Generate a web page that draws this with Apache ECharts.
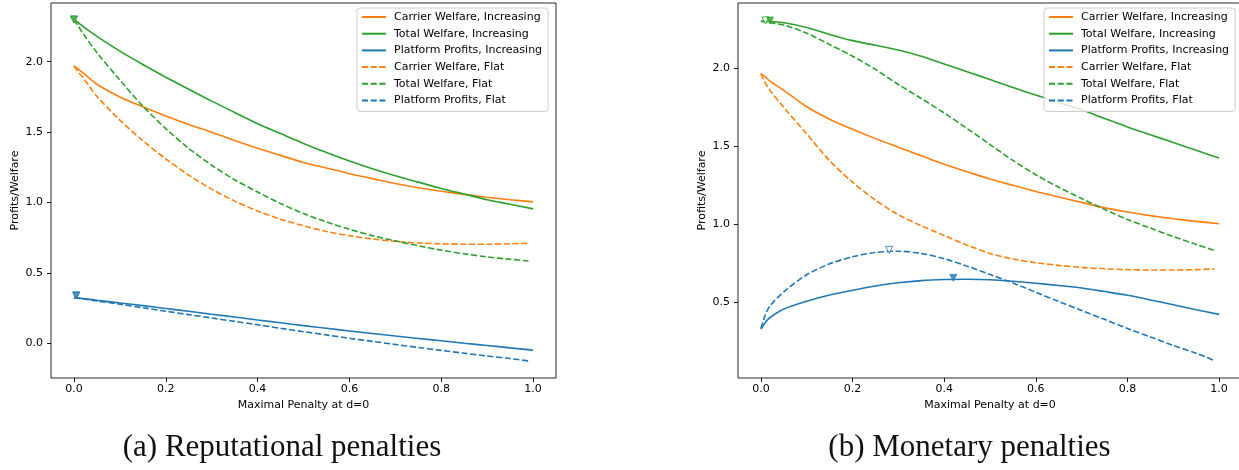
<!DOCTYPE html>
<html><head><meta charset="utf-8">
<script src="https://cdn.jsdelivr.net/npm/echarts@6/dist/echarts.min.js"></script>
<style>html,body{margin:0;padding:0;background:#fff}#c{width:1239px;height:470px}</style>
</head><body><div id="c"></div>
<script>
// ---------- data ----------
const seriesNames = ['Carrier Welfare, Increasing','Total Welfare, Increasing','Platform Profits, Increasing',
                     'Carrier Welfare, Flat','Total Welfare, Flat','Platform Profits, Flat'];
const captions = ['(a) Reputational penalties', '(b) Monetary penalties'];
const xAxisName = 'Maximal Penalty at d=0';
const yAxisName = 'Profits/Welfare';
const xTicks = [0, 0.2, 0.4, 0.6, 0.8, 1.0];
const yTicksA = [0, 0.5, 1.0, 1.5, 2.0];
const yTicksB = [0.5, 1.0, 1.5, 2.0];

const xInc  = [0, 0.01, 0.02, 0.05, 0.1, 0.15, 0.2, 0.25, 0.3, 0.35, 0.4, 0.45, 0.5, 0.55, 0.6, 0.65, 0.7, 0.75, 0.8, 0.85, 0.9, 0.95, 1.0];
const xFlat = [0, 0.01, 0.02, 0.05, 0.1, 0.15, 0.2, 0.25, 0.3, 0.35, 0.4, 0.45, 0.5, 0.55, 0.6, 0.65, 0.7, 0.75, 0.8, 0.85, 0.9, 0.95, 0.99];

// (a) Reputational penalties
const carrierIncA  = [1.97, 1.945, 1.92, 1.84, 1.75, 1.68, 1.615, 1.555, 1.5, 1.44, 1.385, 1.335, 1.285, 1.245, 1.205, 1.17, 1.135, 1.105, 1.08, 1.058, 1.038, 1.02, 1.005];
const totalIncA    = [2.30, 2.275, 2.25, 2.18, 2.075, 1.98, 1.89, 1.805, 1.72, 1.64, 1.56, 1.49, 1.42, 1.355, 1.295, 1.24, 1.19, 1.145, 1.1, 1.06, 1.02, 0.988, 0.955];
const platformIncA = [0.325, 0.321, 0.318, 0.306, 0.287, 0.268, 0.248, 0.228, 0.207, 0.187, 0.166, 0.146, 0.126, 0.107, 0.088, 0.07, 0.052, 0.035, 0.018, 0.001, -0.015, -0.032, -0.048];
const carrierFlatA = [1.97, 1.925, 1.885, 1.755, 1.585, 1.44, 1.31, 1.195, 1.095, 1.01, 0.94, 0.882, 0.835, 0.795, 0.764, 0.741, 0.724, 0.713, 0.707, 0.704, 0.704, 0.707, 0.711];
const totalFlatA   = [2.30, 2.25, 2.2, 2.065, 1.87, 1.685, 1.525, 1.385, 1.265, 1.162, 1.075, 0.993, 0.922, 0.862, 0.81, 0.765, 0.728, 0.693, 0.662, 0.636, 0.614, 0.597, 0.585];
const platformFlatA= [0.325, 0.32, 0.315, 0.301, 0.278, 0.253, 0.228, 0.204, 0.18, 0.156, 0.132, 0.107, 0.083, 0.06, 0.036, 0.014, -0.008, -0.029, -0.05, -0.07, -0.09, -0.108, -0.125];

// (b) Monetary penalties
const carrierIncB  = [1.968, 1.945, 1.92, 1.86, 1.755, 1.675, 1.61, 1.55, 1.495, 1.44, 1.385, 1.337, 1.29, 1.25, 1.21, 1.175, 1.14, 1.105, 1.078, 1.055, 1.035, 1.018, 1.003];
const totalIncB    = [2.305, 2.305, 2.303, 2.295, 2.265, 2.22, 2.18, 2.15, 2.12, 2.08, 2.03, 1.98, 1.93, 1.878, 1.83, 1.783, 1.735, 1.68, 1.625, 1.575, 1.525, 1.475, 1.425];
const platformIncB = [0.325, 0.37, 0.40, 0.455, 0.505, 0.545, 0.575, 0.603, 0.623, 0.637, 0.644, 0.646, 0.643, 0.633, 0.62, 0.606, 0.59, 0.567, 0.543, 0.513, 0.482, 0.45, 0.42];
const carrierFlatB = [1.968, 1.905, 1.86, 1.75, 1.58, 1.408, 1.27, 1.155, 1.06, 0.99, 0.927, 0.865, 0.812, 0.776, 0.752, 0.735, 0.722, 0.713, 0.708, 0.705, 0.705, 0.708, 0.712];
const totalFlatB   = [2.305, 2.3, 2.295, 2.28, 2.228, 2.155, 2.08, 1.995, 1.898, 1.808, 1.715, 1.615, 1.512, 1.41, 1.318, 1.237, 1.165, 1.095, 1.03, 0.975, 0.92, 0.87, 0.83];
const platformFlatB= [0.33, 0.42, 0.475, 0.565, 0.675, 0.745, 0.79, 0.818, 0.826, 0.812, 0.778, 0.73, 0.677, 0.622, 0.562, 0.503, 0.445, 0.388, 0.33, 0.275, 0.22, 0.17, 0.123];

// optimum markers: [total welfare, platform profits]
const optIncA  = [[0.0, 2.30], [0.005, 0.34]];
const optFlatA = [[0.0, 2.30], [0.005, 0.34]];
const optIncB  = [[0.02, 2.31], [0.42, 0.655]];
const optFlatB = [[0.01, 2.31], [0.28, 0.835]];

// ---------- styling / build ----------
const ORANGE = '#ff7f0e', GREEN = '#2ca02c', BLUE = '#1f77b4';
const colors = [ORANGE, GREEN, BLUE, ORANGE, GREEN, BLUE];
const markerColors = [GREEN, BLUE];
const FONT = 'DejaVu Sans';
const DASH = [6.1, 2.6];

function pairs(xs, ys) { return xs.map((x, i) => [x, ys[i]]); }

function lineSeries(idx, xs, ys, gi) {
  const dashed = idx >= 3;
  return {
    type: 'line', name: seriesNames[idx], xAxisIndex: gi, yAxisIndex: gi,
    data: pairs(xs, ys), symbol: 'none', smooth: 0.3, animation: false,
    lineStyle: { color: colors[idx], width: 1.6, type: dashed ? DASH : 'solid' },
    itemStyle: { color: colors[idx] }, z: 2 + idx * 0.01
  };
}
function markerSeries(pts, filled, gi) {
  return {
    type: 'scatter', xAxisIndex: gi, yAxisIndex: gi, animation: false, silent: true,
    symbol: 'triangle', symbolRotate: 180, symbolSize: 7, z: filled ? 4 : 3,
    data: pts.map((p, i) => ({
      value: p,
      itemStyle: filled ? { color: markerColors[i], borderColor: markerColors[i], borderWidth: 0.8 }
                        : { color: '#ffffff', borderColor: markerColors[i], borderWidth: 1 }
    }))
  };
}

const panelsY = [
  { min: -0.246, max: 2.417, ticks: yTicksA },
  { min: 0.011, max: 2.422, ticks: yTicksB }
];
const gridPos = [ { left: 51, width: 505 }, { left: 738, width: 504 } ];
const legendLeft = [357, 1044];
const captionX = [282, 969.5];

const grids = gridPos.map(g => ({
  left: g.left, width: g.width, top: 3, height: 375, show: true,
  borderColor: '#111', borderWidth: 0.9, backgroundColor: 'transparent',
  containLabel: false, outerBoundsMode: 'none'
}));

const xAxes = [0, 1].map(gi => ({
  type: 'value', gridIndex: gi, min: -0.05, max: 1.05, position: 'bottom',
  axisLine: { show: false, onZero: false }, splitLine: { show: false },
  axisTick: { show: true, inside: false, customValues: xTicks, length: 4, lineStyle: { color: '#000', width: 0.9 } },
  axisLabel: { customValues: xTicks, margin: 6, color: '#000', fontFamily: FONT, fontSize: 11,
               formatter: v => v.toFixed(1) },
  name: xAxisName, nameLocation: 'middle', nameGap: 21,
  nameTextStyle: { color: '#000', fontFamily: FONT, fontSize: 11 }
}));
const yAxes = [0, 1].map(gi => ({
  type: 'value', gridIndex: gi, min: panelsY[gi].min, max: panelsY[gi].max, position: 'left',
  axisLine: { show: false, onZero: false }, splitLine: { show: false },
  axisTick: { show: true, inside: false, customValues: panelsY[gi].ticks, length: 4, lineStyle: { color: '#000', width: 0.9 } },
  axisLabel: { customValues: panelsY[gi].ticks, margin: 8, color: '#000', fontFamily: FONT, fontSize: 11,
               formatter: v => v.toFixed(1) },
  name: yAxisName, nameLocation: 'middle', nameGap: 30,
  nameTextStyle: { color: '#000', fontFamily: FONT, fontSize: 11 }
}));

const series = [];
const panelData = [
  [carrierIncA, totalIncA, platformIncA, carrierFlatA, totalFlatA, platformFlatA],
  [carrierIncB, totalIncB, platformIncB, carrierFlatB, totalFlatB, platformFlatB]
];
[0, 1].forEach(gi => {
  panelData[gi].forEach((ys, idx) => series.push(lineSeries(idx, idx < 3 ? xInc : xFlat, ys, gi)));
});
series.push(markerSeries(optFlatA, false, 0));
series.push(markerSeries(optIncA, true, 0));
series.push(markerSeries(optFlatB, false, 1));
series.push(markerSeries(optIncB, true, 1));

const legends = legendLeft.map(l => ({
  left: l, top: 8, orient: 'vertical', data: seriesNames, selectedMode: false,
  itemWidth: 24, itemHeight: 12, itemGap: 4.7, padding: [3, 6, 5, 4],
  itemStyle: { opacity: 0 },
  textStyle: { color: '#000', fontFamily: FONT, fontSize: 11, lineHeight: 12, padding: [0, 0, 0, 3] },
  backgroundColor: 'rgba(255,255,255,0.8)', borderColor: '#cccccc', borderWidth: 1, borderRadius: 3, z: 10
}));

const titles = captions.map((t, i) => ({
  text: t, left: captionX[i], top: 432, textAlign: 'center', padding: 0,
  textStyle: { fontFamily: 'Liberation Serif', fontSize: 31, fontWeight: 'normal', color: '#111', lineHeight: 31 }
}));

const chart = echarts.init(document.getElementById('c'), null, { renderer: 'canvas' });
chart.setOption({
  backgroundColor: '#ffffff', animation: false,
  title: titles, legend: legends, grid: grids, xAxis: xAxes, yAxis: yAxes, series: series
});
</script></body></html>
